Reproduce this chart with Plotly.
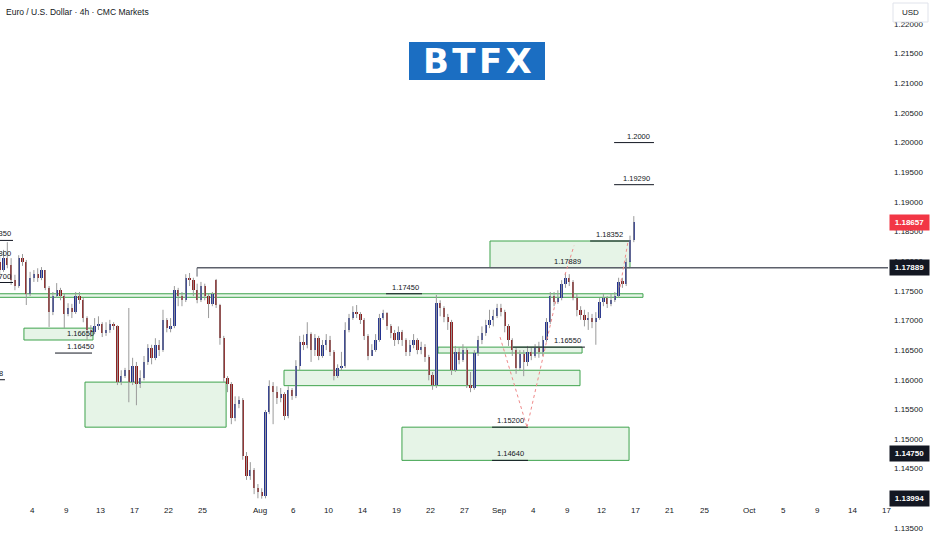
import pandas as pd
import plotly.graph_objects as go

# ---------------- data (EUR/USD, 8h candles) ----------------
first_open = 1.1799
gap_opens = {57: 1.1768}          # candle index -> open after weekend gap

closes = [
    1.1785, 1.1805, 1.1793, 1.1768, 1.1758, 1.1805, 1.1799, 1.1745, 1.1772,
    1.1778, 1.1772, 1.1785, 1.1755, 1.1714, 1.1741, 1.1751, 1.1741, 1.1711,
    1.1721, 1.1714, 1.1741, 1.1734, 1.1704, 1.1684, 1.1680, 1.1690, 1.1694,
    1.1679, 1.1684, 1.1694, 1.1690, 1.1596, 1.1606, 1.1616, 1.1596, 1.1623,
    1.1593, 1.1603, 1.1630, 1.1654, 1.1637, 1.1659, 1.1650, 1.1701, 1.1687,
    1.1690, 1.1751, 1.1741, 1.1734, 1.1772, 1.1768, 1.1751, 1.1734, 1.1758,
    1.1741, 1.1728, 1.1745, 1.1726, 1.1670, 1.1603, 1.1593, 1.1535, 1.1559,
    1.1566, 1.1471, 1.1438, 1.1448, 1.1417, 1.1411, 1.1404, 1.1545, 1.1589,
    1.1579, 1.1569, 1.1576, 1.1539, 1.1583, 1.1572, 1.1623, 1.1664, 1.1659,
    1.1677, 1.1650, 1.1670, 1.1640, 1.1659, 1.1667, 1.1647, 1.1606, 1.1620,
    1.1623, 1.1684, 1.1704, 1.1714, 1.1711, 1.1701, 1.1674, 1.1640, 1.1650,
    1.1667, 1.1704, 1.1713, 1.1690, 1.1679, 1.1667, 1.1680, 1.1667, 1.1647,
    1.1659, 1.1667, 1.1650, 1.1655, 1.1638, 1.1608, 1.1591, 1.1729, 1.1721,
    1.1706, 1.1697, 1.1616, 1.1647, 1.1633, 1.1650, 1.1591, 1.1586, 1.1645,
    1.1667, 1.1679, 1.1692, 1.1701, 1.1707, 1.1721, 1.1714, 1.1690, 1.1667,
    1.1650, 1.1620, 1.1643, 1.1630, 1.1647, 1.1640, 1.1654, 1.1647, 1.1667,
    1.1697, 1.1741, 1.1731, 1.1738, 1.1762, 1.1772, 1.1765, 1.1738, 1.1718,
    1.1709, 1.1701, 1.1704, 1.1697, 1.1704, 1.1731, 1.1738, 1.1728, 1.1734,
    1.1741, 1.1765, 1.1762, 1.1799, 1.1836, 1.18657,
]
highs = [
    1.1810, 1.1819, 1.1832, 1.1805, 1.1777, 1.1810, 1.1812, 1.1802, 1.1782,
    1.1785, 1.1788, 1.1790, 1.1785, 1.1758, 1.1748, 1.1763, 1.1755, 1.1745,
    1.1729, 1.1728, 1.1748, 1.1748, 1.1738, 1.1707, 1.1692, 1.1704, 1.1707,
    1.1697, 1.1697, 1.1701, 1.1697, 1.1692, 1.1616, 1.1620, 1.1721, 1.1637,
    1.1630, 1.1616, 1.1640, 1.1660, 1.1659, 1.1670, 1.1667, 1.1718, 1.1704,
    1.1704, 1.1758, 1.1755, 1.1748, 1.1778, 1.1780, 1.1772, 1.1762, 1.1765,
    1.1762, 1.1745, 1.1748, 1.1770, 1.1728, 1.1674, 1.1606, 1.1596, 1.1572,
    1.1572, 1.1569, 1.1478, 1.1461, 1.1451, 1.1424, 1.1417, 1.1549, 1.1599,
    1.1596, 1.1589, 1.1586, 1.1579, 1.1589, 1.1586, 1.1633, 1.1674, 1.1676,
    1.1697, 1.1680, 1.1677, 1.1674, 1.1667, 1.1677, 1.1674, 1.1650, 1.1626,
    1.1647, 1.1697, 1.1711, 1.1724, 1.1726, 1.1714, 1.1704, 1.1677, 1.1660,
    1.1677, 1.1711, 1.1718, 1.1714, 1.1694, 1.1684, 1.1690, 1.1684, 1.1670,
    1.1667, 1.1677, 1.1670, 1.1664, 1.1660, 1.1642, 1.1613, 1.1743, 1.1734,
    1.1724, 1.1711, 1.1701, 1.1657, 1.1654, 1.1660, 1.1654, 1.1613, 1.1650,
    1.1674, 1.1690, 1.1701, 1.1718, 1.1718, 1.1728, 1.1728, 1.1718, 1.1694,
    1.1670, 1.1654, 1.1650, 1.1650, 1.1657, 1.1654, 1.1660, 1.1664, 1.1674,
    1.1704, 1.1748, 1.1748, 1.1751, 1.1768, 1.1780, 1.1778, 1.1768, 1.1745,
    1.1724, 1.1718, 1.1714, 1.1711, 1.1714, 1.1738, 1.1745, 1.1741, 1.1745,
    1.1748, 1.1772, 1.1772, 1.1805, 1.1843, 1.1876,
]
lows = [
    1.1778, 1.1782, 1.1788, 1.1760, 1.1751, 1.1755, 1.1792, 1.1726, 1.1741,
    1.1765, 1.1765, 1.1768, 1.1751, 1.1689, 1.1709, 1.1738, 1.1734, 1.1687,
    1.1707, 1.1704, 1.1711, 1.1728, 1.1697, 1.1667, 1.1672, 1.1677, 1.1684,
    1.1672, 1.1674, 1.1679, 1.1684, 1.1591, 1.1591, 1.1603, 1.1562, 1.1591,
    1.1557, 1.1586, 1.1599, 1.1625, 1.1626, 1.1633, 1.1640, 1.1647, 1.1680,
    1.1680, 1.1687, 1.1724, 1.1724, 1.1731, 1.1758, 1.1741, 1.1729, 1.1731,
    1.1734, 1.1704, 1.1724, 1.1721, 1.1659, 1.1596, 1.1579, 1.1525, 1.1530,
    1.1552, 1.1465, 1.1431, 1.1431, 1.1407, 1.1400, 1.13994, 1.1400, 1.1542,
    1.1525, 1.1559, 1.1562, 1.1532, 1.1535, 1.1566, 1.1569, 1.1616, 1.1650,
    1.1653, 1.1630, 1.1640, 1.1633, 1.1637, 1.1650, 1.1640, 1.1599, 1.1603,
    1.1616, 1.1620, 1.1680, 1.1701, 1.1704, 1.1694, 1.1667, 1.1633, 1.1640,
    1.1647, 1.1664, 1.1701, 1.1684, 1.1670, 1.1657, 1.1660, 1.1657, 1.1640,
    1.1640, 1.1653, 1.1643, 1.1643, 1.1630, 1.1599, 1.1583, 1.1586, 1.1707,
    1.1697, 1.1684, 1.1608, 1.1613, 1.1626, 1.1630, 1.1586, 1.1579, 1.1583,
    1.1640, 1.1660, 1.1674, 1.1687, 1.1690, 1.1704, 1.1707, 1.1680, 1.1657,
    1.1640, 1.1610, 1.1616, 1.1606, 1.1623, 1.1633, 1.1637, 1.1637, 1.1640,
    1.1664, 1.1694, 1.1724, 1.1728, 1.1734, 1.1755, 1.1758, 1.1734, 1.1707,
    1.1701, 1.1690, 1.1684, 1.1687, 1.1659, 1.1701, 1.1724, 1.1721, 1.1724,
    1.1731, 1.1738, 1.1755, 1.1758, 1.1799, 1.1832,
]

# supply / demand zones: (start, end, low, high)
zones = [
    ("2025-06-30", "2025-09-17 15:20", 1.1739, 1.1745),
    ("2025-07-03 07:00", "2025-07-11 08:30", 1.1667, 1.1687),
    ("2025-07-10 15:40", "2025-07-29 01:00", 1.1520, 1.1596),
    ("2025-08-05 03:00", "2025-09-10 02:40", 1.1590, 1.1616),
    ("2025-08-22 15:30", "2025-09-10 07:00", 1.1645, 1.1655),
    ("2025-08-19 11:30", "2025-09-16 10:00", 1.1464, 1.1520),
    ("2025-08-29 05:00", "2025-09-16 12:00", 1.1789, 1.1834),
]
# level marks: (start, end, price)
level_lines = [
    ("2025-09-15 02:30", "2025-09-18 14:30", 1.2000),
    ("2025-09-15 02:30", "2025-09-18 14:30", 1.1929),
    ("2025-09-11 00:00", "2025-09-16 10:00", 1.1834),
    ("2025-08-18 02:00", "2025-08-21 05:45", 1.1745),
    ("2025-09-02 05:00", "2025-09-10 13:00", 1.1655),
    ("2025-08-29 09:20", "2025-09-03 13:00", 1.1520),
    ("2025-08-29 09:20", "2025-09-03 13:00", 1.1464),
    ("2025-07-08 00:30", "2025-07-11 06:30", 1.1645),
    ("2025-06-30", "2025-07-02 08:00", 1.1835),
    ("2025-06-30", "2025-07-02 08:00", 1.1764),
    ("2025-06-30", "2025-07-01 15:00", 1.1600),
]
# level labels: (x, price, text, anchor)
level_labels = [
    ("2025-09-18 10:20", 1.2000, "1.2000", "right"),
    ("2025-09-18 10:20", 1.1929, "1.19290", "right"),
    ("2025-09-16 01:30", 1.1834, "1.18352", "right"),
    ("2025-09-08 23:20", 1.1789, "1.17889", "center"),
    ("2025-08-19 18:00", 1.1745, "1.17450", "center"),
    ("2025-09-10 09:00", 1.1655, "1.16550", "right"),
    ("2025-09-01 23:15", 1.1520, "1.15200", "center"),
    ("2025-09-01 23:15", 1.1464, "1.14640", "center"),
    ("2025-07-10 07:00", 1.1645, "1.16450", "center"),
    ("2025-07-10 07:00", 1.1667, "1.16650", "center"),
    ("2025-07-02 08:00", 1.1835, "1.18350", "right"),
    ("2025-07-02 08:00", 1.1802, "1.17800", "right"),
    ("2025-07-02 08:00", 1.1764, "1.17700", "right"),
    ("2025-07-01 15:00", 1.1600, "1.15998", "right"),
]
# projection paths (dotted)
projections = [
    [("2025-09-01 02:10", 1.1672), ("2025-09-03 11:00", 1.1520), ("2025-09-08 00:00", 1.1734)],
    [("2025-09-08 19:00", 1.1777), ("2025-09-09 14:00", 1.1826)],
    [("2025-09-15 15:00", 1.1756), ("2025-09-16 08:00", 1.1834)],
]
key_level = 1.17889
key_level_start = "2025-07-24 11:45"

price_tags = [(1.18657, "#f23645"), (1.17889, "#131722"), (1.14750, "#131722"), (1.13994, "#131722")]
price_ticks = [round(1.135 + 0.005 * i, 3) for i in range(18)]
date_ticks = ["2025-07-04", "2025-07-09", "2025-07-13", "2025-07-17", "2025-07-22", "2025-07-25",
              "2025-08-01", "2025-08-06", "2025-08-10", "2025-08-14", "2025-08-19", "2025-08-22",
              "2025-08-27", "2025-09-01", "2025-09-04", "2025-09-09", "2025-09-12", "2025-09-17",
              "2025-09-21", "2025-09-25", "2025-10-01", "2025-10-05", "2025-10-09", "2025-10-14",
              "2025-10-17"]
date_labels = ["4", "9", "13", "17", "22", "25", "Aug", "6", "10", "14", "19", "22", "27",
               "Sep", "4", "9", "12", "17", "21", "25", "Oct", "5", "9", "14", "17"]

# ---------------- build ----------------
days = pd.bdate_range("2025-07-01", "2025-09-16")
times = [d + pd.Timedelta(hours=h) for d in days for h in (4, 12, 20)]
opens = [first_open] + closes[:-1]
for i, v in gap_opens.items():
    opens[i] = v

UP, DOWN, WICK = "#22318f", "#8e1b1b", "#9a9a9a"
FONT = "Liberation Sans"
INK = "#131722"

wx, wy = [], []
for t, h, l in zip(times, highs, lows):
    wx += [t, t, None]
    wy += [l, h, None]

fig = go.Figure()
fig.add_trace(go.Scatter(x=wx, y=wy, mode="lines", line=dict(color=WICK, width=1),
                         hoverinfo="skip", showlegend=False))
fig.add_trace(go.Bar(x=times, y=[c - o for o, c in zip(opens, closes)], base=opens,
                     width=8 * 3600 * 1000 * 0.62,
                     marker=dict(color=[UP if c >= o else DOWN for o, c in zip(opens, closes)],
                                 line=dict(width=0)),
                     showlegend=False))

shapes = []
for x0, x1, lo, hi in zones:
    shapes.append(dict(type="rect", xref="x", yref="y", x0=x0, x1=x1, y0=lo, y1=hi,
                       fillcolor="rgba(200,230,201,0.45)", line=dict(color="#3fa34d", width=1),
                       layer="below"))
for x0, x1, p in level_lines:
    shapes.append(dict(type="line", xref="x", yref="y", x0=x0, x1=x1, y0=p, y1=p,
                       line=dict(color=INK, width=1)))
shapes.append(dict(type="line", xref="x", yref="y", x0=key_level_start, x1="2025-10-25",
                   y0=key_level, y1=key_level, line=dict(color="#5d606b", width=1.3)))
shapes.append(dict(type="line", xref="x", yref="y", x0=key_level_start, x1=key_level_start,
                   y0=key_level, y1=1.1774, line=dict(color="#5d606b", width=1)))
for path in projections:
    for (xa, ya), (xb, yb) in zip(path[:-1], path[1:]):
        shapes.append(dict(type="line", xref="x", yref="y", x0=xa, x1=xb, y0=ya, y1=yb,
                           line=dict(color="#ef8a8a", width=1, dash="dot")))
# logo box
shapes.append(dict(type="rect", xref="paper", yref="paper", x0=409 / 888, x1=545 / 888,
                   y0=1 - 80 / 550, y1=1 - 42 / 550, fillcolor="#1b6ec2", line=dict(width=0)))
# USD box
shapes.append(dict(type="rect", xref="paper", yref="paper", x0=893 / 888, x1=928 / 888,
                   y0=1 - 22 / 550, y1=1 - 3 / 550, fillcolor="white",
                   line=dict(color="#e0e3eb", width=1)))

ann = []
for x, p, txt, anc in level_labels:
    ann.append(dict(x=x, y=p, xref="x", yref="y", text=txt, showarrow=False, xanchor=anc,
                    yanchor="bottom", yshift=0, font=dict(family=FONT, size=7.5, color=INK)))
for p, col in price_tags:
    ann.append(dict(x=1, y=p, xref="paper", yref="y", text="<b>%.5f</b>" % p, showarrow=False,
                    xanchor="left", xshift=1, bgcolor=col, width=37, height=13,
                    font=dict(family=FONT, size=8, color="white")))
for d, lab in zip(date_ticks, date_labels):
    ts = pd.Timestamp(d)
    if ts.weekday() == 6:
        ts = ts + pd.Timedelta(days=1)
    ann.append(dict(x=ts, y=1 - 510 / 550, xref="x", yref="paper", text=lab, showarrow=False,
                    xanchor="center", yanchor="middle", font=dict(family=FONT, size=8, color=INK)))
ann.append(dict(x=4 / 888, y=1 - 12 / 550, xref="paper", yref="paper",
                text="Euro / U.S. Dollar · 4h · CMC Markets", showarrow=False, xanchor="left",
                yanchor="middle", font=dict(family=FONT, size=8.5, color=INK)))
ann.append(dict(x=910.5 / 888, y=1 - 12.5 / 550, xref="paper", yref="paper", text="USD",
                showarrow=False, xanchor="center", yanchor="middle",
                font=dict(family=FONT, size=8, color=INK)))
ann.append(dict(x=477 / 888, y=1 - 61 / 550, xref="paper", yref="paper",
                text="<b>B\u200aT\u200aF\u200aX</b>", showarrow=False, xanchor="center",
                yanchor="middle", font=dict(family="DejaVu Sans", size=34, color="white")))

fig.update_layout(
    width=932, height=550, margin=dict(l=0, r=44, t=0, b=0),
    paper_bgcolor="white", plot_bgcolor="white", bargap=0,
    shapes=shapes, annotations=ann, showlegend=False,
    xaxis=dict(type="date", range=["2025-07-01 04:35", "2025-10-17 03:36"],
               rangebreaks=[dict(bounds=["sat", "mon"])], showgrid=False, zeroline=False,
               showticklabels=False, showline=False, fixedrange=True),
    yaxis=dict(side="right", range=[1.13128, 1.22405], tickvals=price_ticks,
               ticktext=["%.5f" % v for v in price_ticks], showgrid=False, zeroline=False,
               ticks="", ticklabelstandoff=5, tickfont=dict(family=FONT, size=8, color=INK),
               showline=False),
)
fig.write_html("out.html", config={"displayModeBar": False},
               post_script="document.body.style.margin='0';document.body.style.overflow='hidden';")
